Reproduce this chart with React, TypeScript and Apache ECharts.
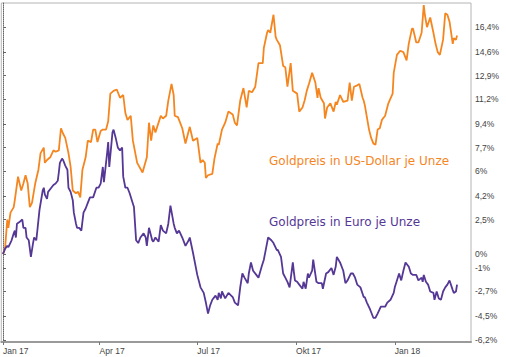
import React, { useEffect, useRef } from "react";
import * as echarts from "echarts";

const START = Date.UTC(2017, 0, 1);
const DAY = 86400000;

// [days since 1 Jan 2017, change in %]
const usdData: [number, number][] = [
  [0,0.0],[2,0.5],[4,2.5],[5,1.9],[7,3.0],[10,3.4],[11,3.9],[14,5.6],[17,4.6],[19,5.1],[21,5.7],[23,5.1],[25,3.4],[27,3.7],[30,5.1],[33,6.1],[35,7.3],[38,7.7],[39,6.6],[41,6.8],[44,7.0],[47,7.5],[49,7.4],[52,7.5],[54,9.1],[56,8.7],[58,8.4],[61,7.3],[63,6.3],[65,4.6],[68,4.4],[70,4.5],[72,4.1],[74,6.1],[77,7.0],[79,8.2],[82,8.1],[84,9.0],[86,9.0],[88,8.1],[91,8.9],[93,9.0],[96,9.0],[98,9.6],[100,11.6],[103,11.8],[106,11.9],[109,11.3],[112,11.5],[114,10.2],[116,9.7],[119,10.0],[121,8.2],[125,6.6],[130,5.9],[134,7.0],[136,9.5],[138,8.2],[140,9.3],[142,8.8],[147,10.0],[149,9.8],[152,10.0],[154,11.1],[157,12.3],[159,11.5],[160,10.0],[163,9.9],[167,9.1],[170,8.0],[174,9.2],[177,8.2],[181,8.4],[184,6.6],[186,6.8],[188,6.6],[189,5.5],[191,5.7],[195,5.8],[197,6.9],[200,8.0],[201,7.9],[204,9.0],[207,9.5],[210,10.3],[214,10.1],[216,9.5],[218,9.3],[221,11.1],[224,12.0],[227,10.6],[229,11.8],[232,11.7],[235,12.1],[238,13.8],[242,13.8],[243,14.9],[246,16.0],[247,16.2],[249,16.0],[252,17.3],[254,15.7],[255,15.5],[258,15.1],[261,13.6],[263,13.5],[265,12.1],[268,13.8],[270,11.8],[274,11.6],[276,10.3],[279,10.6],[281,11.1],[283,11.8],[285,12.3],[288,13.1],[291,12.4],[293,11.3],[294,12.0],[296,11.3],[299,10.9],[300,9.8],[302,10.6],[305,10.9],[308,10.3],[310,11.0],[311,10.8],[314,11.5],[317,11.0],[321,11.1],[323,12.4],[325,11.1],[327,12.1],[330,12.2],[332,12.3],[335,11.3],[336,11.1],[337,10.8],[339,9.9],[341,9.0],[343,8.4],[345,8.0],[347,7.9],[349,9.0],[351,9.1],[353,9.7],[356,10.0],[359,10.9],[363,11.6],[364,13.1],[367,14.4],[370,14.7],[373,14.6],[376,14.0],[378,15.2],[381,16.3],[382,16.3],[385,15.3],[387,15.3],[390,16.0],[392,18.0],[393,17.3],[395,16.4],[398,17.1],[401,16.0],[403,15.2],[405,14.6],[407,14.4],[410,15.5],[412,17.4],[414,17.3],[416,16.8],[419,15.2],[420,15.6],[422,15.5],[423,15.8]
];

const eurData: [number, number][] = [
  [0,0.0],[2,0.4],[4,0.6],[5,0.5],[8,1.0],[10,1.5],[11,1.7],[12,1.2],[13,2.2],[15,2.3],[18,2.5],[19,1.9],[21,1.9],[22,1.2],[24,1.0],[25,0.4],[26,-0.2],[28,0.8],[29,1.2],[31,1.0],[32,1.7],[34,3.2],[37,4.6],[38,4.8],[39,4.3],[41,4.0],[42,4.5],[45,4.8],[47,5.0],[49,5.1],[51,5.3],[52,5.9],[53,6.6],[55,6.9],[56,6.8],[58,6.4],[60,6.1],[61,4.8],[63,4.5],[65,3.9],[66,3.0],[68,2.2],[69,1.9],[71,1.9],[73,1.7],[75,3.0],[77,3.3],[79,3.7],[81,4.1],[84,4.1],[87,4.8],[89,4.8],[91,5.1],[93,6.3],[94,5.2],[97,7.3],[98,8.1],[99,6.3],[102,8.8],[103,9.0],[105,8.4],[107,7.7],[109,7.5],[111,7.7],[112,5.6],[114,4.8],[116,4.8],[118,4.4],[120,3.9],[122,3.4],[124,1.0],[126,0.8],[128,1.2],[131,1.5],[133,1.2],[134,0.6],[136,1.9],[139,1.0],[140,0.9],[142,1.2],[145,0.9],[147,2.1],[149,1.7],[152,1.5],[154,2.2],[156,3.5],[159,2.2],[160,1.9],[162,1.5],[164,1.7],[167,1.2],[170,0.6],[173,1.0],[174,1.2],[177,0.1],[181,-1.5],[184,-2.4],[187,-2.8],[189,-3.5],[191,-4.3],[193,-3.7],[195,-3.3],[198,-3.0],[200,-3.3],[201,-2.8],[203,-3.2],[204,-2.7],[207,-3.2],[210,-2.8],[214,-3.1],[216,-3.5],[219,-3.7],[221,-2.4],[223,-1.4],[225,-1.7],[228,-2.1],[229,-1.4],[231,-0.6],[233,-1.2],[236,-1.5],[238,-1.7],[241,-0.9],[243,-0.4],[245,0.4],[247,1.2],[250,1.0],[252,0.8],[255,0.3],[256,0.3],[259,-0.2],[261,-1.4],[263,-1.7],[265,-2.0],[267,-2.4],[270,-0.6],[271,-1.3],[272,-1.9],[274,-2.0],[276,-2.2],[279,-2.5],[280,-2.0],[282,-2.5],[284,-1.4],[285,-1.7],[288,-1.2],[289,-0.4],[292,-2.0],[294,-2.1],[297,-2.1],[298,-2.5],[301,-1.4],[303,-1.3],[306,-1.0],[308,-1.5],[310,-0.9],[311,-0.2],[314,-0.6],[317,-1.2],[319,-2.1],[321,-1.9],[324,-1.4],[326,-1.4],[328,-1.7],[330,-2.2],[333,-2.4],[336,-3.1],[337,-3.1],[339,-3.5],[342,-4.0],[345,-4.6],[347,-4.6],[349,-4.3],[352,-3.8],[354,-3.8],[356,-3.8],[358,-3.5],[361,-3.3],[364,-2.8],[365,-2.4],[367,-1.9],[369,-1.4],[371,-1.9],[373,-1.2],[375,-0.6],[377,-0.8],[378,-0.9],[380,-1.4],[382,-1.5],[385,-1.5],[387,-1.9],[390,-1.7],[391,-2.0],[392,-1.5],[394,-2.0],[396,-2.2],[398,-2.7],[401,-2.8],[402,-3.3],[404,-2.7],[406,-3.2],[408,-3.3],[410,-2.7],[412,-2.4],[414,-2.2],[416,-1.9],[419,-2.6],[420,-2.8],[422,-2.7],[423,-2.2]
];

const xTickDates = [Date.UTC(2017, 0, 1), Date.UTC(2017, 3, 1), Date.UTC(2017, 6, 1), Date.UTC(2017, 9, 1), Date.UTC(2018, 0, 1)];
const xTickLabels = ["Jan 17", "Apr 17", "Jul 17", "Okt 17", "Jan 18"];

const yTickValues = [-6.2, -4.5, -2.7, -1, 0, 2.5, 4.2, 6, 7.7, 9.4, 11.2, 12.9, 14.6, 16.4];
const yTickLabels = ["-6,2%", "-4,5%", "-2,7%", "-1%", "0%", "2,5%", "4,2%", "6%", "7,7%", "9,4%", "11,2%", "12,9%", "14,6%", "16,4%"];

const seriesNames = ["Goldpreis in US-Dollar je Unze", "Goldpreis in Euro je Unze"];

const ORANGE = "#f5861f";
const PURPLE = "#553796";

export default function App() {
  const ref = useRef<HTMLDivElement>(null);
  useEffect(() => {
    if (!ref.current) return;
    const chart = echarts.init(ref.current, null, { renderer: "svg" });
    const xTickDays = xTickDates.map((t) => Math.round((t - START) / DAY));
    chart.setOption({
      animation: false,
      backgroundColor: "#ffffff",
      grid: { left: 1, right: 35, top: 3, bottom: 15, show: true, borderColor: "#b4b4b4", borderWidth: 1 },
      xAxis: {
        type: "value",
        min: -1.6,
        max: 436,
        axisLine: { show: true, onZero: false, lineStyle: { color: "#9a9a9a", width: 2 } },
        axisTick: { show: true, length: 3, customValues: xTickDays, lineStyle: { color: "#777" } },
        splitLine: { show: false },
        axisLabel: {
          customValues: xTickDays,
          align: "left",
          margin: 4,
          color: "#444",
          fontSize: 8.5,
          fontFamily: "Liberation Sans",
          formatter: (v: number) => {
            const i = xTickDays.indexOf(Math.round(v));
            return i >= 0 ? xTickLabels[i] : "";
          },
        },
      },
      yAxis: {
        type: "value",
        position: "right",
        min: -6.35,
        max: 18.15,
        axisLine: { show: true, lineStyle: { color: "#666", type: [1, 1], width: 1 } },
        axisTick: { show: true, length: 3, customValues: yTickValues, lineStyle: { color: "#666" } },
        splitLine: { show: false },
        axisLabel: {
          customValues: yTickValues,
          margin: 4,
          color: "#444",
          fontSize: 8.5,
          fontFamily: "Liberation Sans",
          formatter: (v: number) => {
            const i = yTickValues.findIndex((t) => Math.abs(t - v) < 1e-6);
            return i >= 0 ? yTickLabels[i] : "";
          },
        },
      },
      graphic: [
        {
          type: "text",
          x: 269,
          y: 161,
          style: { text: seriesNames[0], fill: ORANGE, fontSize: 12, fontFamily: "DejaVu Sans", verticalAlign: "middle" },
        },
        {
          type: "text",
          x: 269,
          y: 222,
          style: { text: seriesNames[1], fill: PURPLE, fontSize: 12, fontFamily: "DejaVu Sans", verticalAlign: "middle" },
        },
      ],
      series: [
        {
          name: seriesNames[0],
          type: "line",
          data: usdData,
          showSymbol: false,
          lineStyle: { color: ORANGE, width: 1.8 },
          itemStyle: { color: ORANGE },
        },
        {
          name: seriesNames[1],
          type: "line",
          data: eurData,
          showSymbol: false,
          lineStyle: { color: PURPLE, width: 1.8 },
          itemStyle: { color: PURPLE },
        },
      ],
    });
    return () => chart.dispose();
  }, []);
  return (
    <div
      ref={ref}
      style={{ position: "fixed", left: 0, top: 0, width: 506, height: 357, background: "#fff" }}
    />
  );
}
